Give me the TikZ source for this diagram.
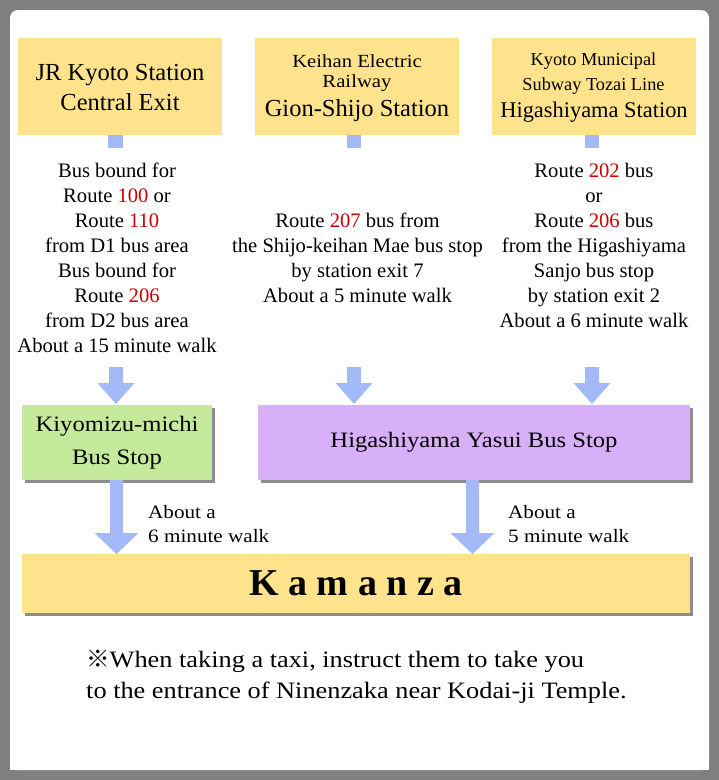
\documentclass[tikz,border=0pt]{standalone}
\usepackage{fontspec}
\setmainfont{Liberation Serif}
\newfontfamily\widefont[FakeStretch=1.12]{Liberation Serif}
\newfontfamily\cjkf{Noto Sans CJK JP}
\usetikzlibrary{shadows,calc}
\definecolor{boxyellow}{RGB}{255,227,140}
\definecolor{arrowblue}{RGB}{164,185,248}
\definecolor{boxgreen}{RGB}{198,234,155}
\definecolor{boxpurple}{RGB}{216,176,250}
\definecolor{framegray}{RGB}{128,128,128}
\definecolor{routered}{RGB}{204,0,0}
\newcommand\rt[1]{\textcolor{routered}{#1}}
% block arrow: (x, ytop, ytip, shaft half, head half, head length)
\newcommand\blockarrow[6]{%
  \fill[arrowblue] (#1-#4,#2) -- (#1+#4,#2) -- (#1+#4,#3-#6) -- (#1+#5,#3-#6)
    -- (#1,#3) -- (#1-#5,#3-#6) -- (#1-#4,#3-#6) -- cycle;}
\tikzset{
  stationbox/.style={fill=boxyellow, inner sep=0pt, minimum height=97pt, minimum width=204pt},
  bigline/.style={anchor=base, inner sep=0pt, font=\fontsize{24.5}{26}\selectfont},
  smallline/.style={anchor=base, inner sep=0pt, font=\fontsize{18.3}{20}\selectfont},
  stopbox/.style={inner sep=0pt, minimum height=75pt, align=center,
    font=\widefont\fontsize{22}{33}\selectfont,
    drop shadow={shadow xshift=2.5pt, shadow yshift=-2.5pt, fill=black, opacity=0.45}},
  infotext/.style={align=center, inner sep=0pt, font=\fontsize{20.6}{25}\selectfont},
  walktext/.style={align=left, anchor=west, inner sep=0pt, font=\widefont\fontsize{18.9}{24}\selectfont},
}
\begin{document}
\begin{tikzpicture}[x=1pt,y=-1pt]
\useasboundingbox (0,0) rectangle (719,780);
\fill[framegray] (0,0) rectangle (719,780);
\fill[white, rounded corners=8pt] (10,10) rectangle (709,770);
\fill[white] (10,300) rectangle (709,770);

% station boxes
\node[stationbox] (s1) at (120,86.5) {};
\node[stationbox] (s2) at (357,86.5) {};
\node[stationbox] (s3) at (593.5,86.5) {};

\node[bigline] (s1a) at (120,80) {JR Kyoto Station};
\node[bigline] (s1b) at (120,110) {Central Exit};

\node[smallline, font=\widefont\fontsize{18.5}{20}\selectfont] (s2a) at (357,67) {Keihan Electric};
\node[smallline, font=\widefont\fontsize{18.5}{20}\selectfont] (s2b) at (357,87) {Railway};
\node[bigline] (s2c) at (357,116) {Gion-Shijo Station};

\node[smallline] (s3a) at (593.5,65) {Kyoto Municipal};
\node[smallline] (s3b) at (593.5,90) {Subway Tozai Line};
\node[bigline, font=\fontsize{22.4}{24}\selectfont] (s3c) at (594,117) {Higashiyama Station};

% stubs below station boxes
\fill[arrowblue] ($(s1.south)+(-12,0)$) rectangle ($(s1.south)+(3,13)$);
\fill[arrowblue] ($(s2.south)+(-10,0)$) rectangle ($(s2.south)+(4,13)$);
\fill[arrowblue] ($(s3.south)+(-8.5,0)$) rectangle ($(s3.south)+(5.5,13)$);

% info texts
\node[infotext] (t1) at (117,257.5)
  {Bus bound for\\ Route \rt{100} or\\ Route \rt{110}\\ from D1 bus area\\ Bus bound for\\ Route \rt{206}\\ from D2 bus area\\ About a 15 minute walk};
\node[infotext] (t2) at (357.5,258)
  {Route \rt{207} bus from\\ the Shijo-keihan Mae bus stop\\ by station exit 7\\ About a 5 minute walk};
\node[infotext] (t3) at (594,245)
  {Route \rt{202} bus\\ or\\ Route \rt{206} bus\\ from the Higashiyama\\ Sanjo bus stop\\ by station exit 2\\ About a 6 minute walk};

% arrows to bus stops
\blockarrow{116}{367}{404}{7}{18.5}{21}
\blockarrow{354}{367}{404}{7}{18.5}{21}
\blockarrow{592}{367}{404}{7}{18.5}{21}

% bus stop boxes
\node[stopbox, fill=boxgreen, minimum width=190pt] (b1) at (117,442.5)
  {Kiyomizu-michi\\ Bus Stop};
\node[stopbox, fill=boxpurple, minimum width=432pt] (b2) at (474,442.5)
  {Higashiyama Yasui Bus Stop};

% destination
\node[stopbox, fill=boxyellow, minimum width=668pt, minimum height=59pt,
  font=\fontsize{38}{40}\selectfont\bfseries] (k) at (356,583.5)
  {K a m a n z a};

% arrows to destination
\blockarrow{116.5}{480}{554}{6.5}{22}{21}
\blockarrow{472.5}{480}{554}{6.5}{22}{21}

\node[walktext] (w1) at (148,524) {About a\\ 6 minute walk};
\node[walktext] (w2) at (508,524) {About a\\ 5 minute walk};

% taxi note
\node[anchor=west, align=left, inner sep=0pt, font=\widefont\fontsize{23.5}{31}\selectfont] (note) at (86,676.5)
  {{\cjkf ※}When taking a taxi, instruct them to take you\\ to the entrance of Ninenzaka near Kodai-ji Temple.};
\end{tikzpicture}
\end{document}
